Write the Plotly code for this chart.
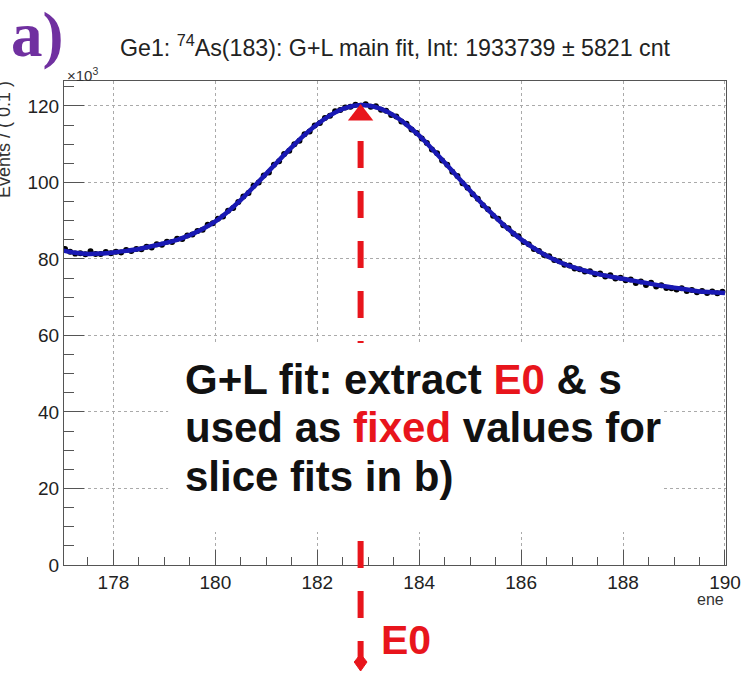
import numpy as np
import plotly.graph_objects as go

# ---------------- data (counts in units of 10^3 per 0.1 bin) ----------------
bin_start = 177.05
bin_width = 0.1
events = [
    82.6, 81.9, 81.4, 81.5, 81.2, 82.0, 81.3, 81.3, 81.8, 81.5,
    81.9, 81.7, 82.3, 82.1, 82.6, 82.5, 83.2, 83.0, 83.8, 83.7,
    84.5, 84.4, 85.3, 85.2, 86.1, 86.4, 87.3, 87.6, 88.9, 89.3,
    90.5, 91.1, 92.6, 93.3, 94.9, 96.3, 97.2, 99.1, 100.0, 101.8,
    102.6, 104.6, 105.5, 107.4, 108.3, 110.0, 110.9, 112.6, 113.3, 114.9,
    115.5, 116.8, 117.4, 118.6, 118.9, 119.6, 119.8, 120.3, 120.0, 120.4,
    119.8, 119.9, 119.0, 118.7, 117.6, 117.2, 115.9, 115.3, 113.8, 112.9,
    111.5, 110.3, 108.6, 107.6, 105.7, 104.6, 102.8, 101.7, 99.8, 98.6,
    96.9, 95.7, 94.0, 93.0, 91.3, 90.5, 88.8, 88.0, 86.6, 85.9,
    84.4, 83.8, 82.6, 82.1, 81.0, 80.7, 79.7, 79.4, 78.5, 78.3,
    77.5, 77.3, 76.7, 76.8, 76.0, 76.2, 75.4, 75.7, 74.9, 75.1,
    74.4, 74.6, 73.7, 74.1, 73.2, 73.8, 72.8, 73.1, 72.4, 72.3,
    72.0, 72.3, 71.6, 71.9, 71.3, 71.6, 71.1, 71.5, 71.0, 71.4,
]
energy = np.round(bin_start + bin_width * np.arange(len(events)), 3)

# G+L fit curve sampled every 0.25
fit_energy = [
    177.00, 177.25, 177.50, 177.75, 178.00, 178.25, 178.50, 178.75, 179.00, 179.25,
    179.50, 179.75, 180.00, 180.25, 180.50, 180.75, 181.00, 181.25, 181.50, 181.75,
    182.00, 182.25, 182.50, 182.75, 183.00, 183.25, 183.50, 183.75, 184.00, 184.25,
    184.50, 184.75, 185.00, 185.25, 185.50, 185.75, 186.00, 186.25, 186.50, 186.75,
    187.00, 187.25, 187.50, 187.75, 188.00, 188.25, 188.50, 188.75, 189.00, 189.25,
    189.50, 189.75, 190.00,
]
fit_values = [
    82.2, 81.6, 81.3, 81.4, 81.7, 82.1, 82.6, 83.3, 84.1, 85.0,
    86.2, 87.8, 89.8, 92.4, 95.4, 98.8, 102.3, 105.8, 109.2, 112.4,
    115.2, 117.5, 119.2, 120.1, 120.1, 119.2, 117.5, 115.1, 112.2, 108.8,
    105.2, 101.5, 97.8, 94.2, 90.9, 87.8, 85.1, 82.8, 80.8, 79.2,
    77.9, 76.9, 76.1, 75.4, 74.8, 74.2, 73.6, 73.0, 72.5, 72.0,
    71.5, 71.3, 71.1,
]

E0 = 182.85
peak_marker_value = [117.6]
x_range = [177.03, 190.02]
y_range = [0, 126.5]
x_ticks = [178, 180, 182, 184, 186, 188, 190]
y_ticks = [0, 20, 40, 60, 80, 100, 120]

title_text = "Ge1: <sup>74</sup>As(183): G+L main fit, Int: 1933739 ± 5821 cnt"
box_lines = [
    "G+L fit: extract <span style='color:#e8151c'>E0</span> & s",
    "used as <span style='color:#e8151c'>fixed</span> values for",
    "slice fits in b)",
]

# ---------------- layout geometry (pixels) ----------------
W, H = 753, 673
L, R, T, B = 64, 738, 81, 565


def px(xp):
    return (xp - L) / (R - L)


def py(yp):
    return (B - yp) / (B - T)


def data_to_paper_x(v):
    return (v - x_range[0]) / (x_range[1] - x_range[0])


RED = "#e8151c"
FONT = "Liberation Sans, Arial, sans-serif"

fig = go.Figure()
fig.add_trace(go.Scatter(
    x=energy, y=events, mode="markers",
    marker=dict(color="black", size=6), showlegend=False, hoverinfo="skip",
))
fig.add_trace(go.Scatter(
    x=fit_energy, y=fit_values, mode="lines", line_shape="spline",
    line=dict(color="rgb(25,25,180)", width=4.5), showlegend=False, hoverinfo="skip",
))
fig.add_trace(go.Scatter(
    x=[E0], y=peak_marker_value, mode="markers",
    marker=dict(symbol="triangle-up", color=RED, size=22),
    showlegend=False, hoverinfo="skip",
))

fig.add_shape(type="line", xref="x", yref="paper", x0=E0, x1=E0,
              y0=py(141), y1=py(658), layer="above",
              line=dict(color=RED, width=6, dash="27px,23px"))
fig.add_shape(type="rect", xref="paper", yref="paper",
              x0=px(170), x1=px(672), y0=py(343), y1=py(532), layer="above",
              line=dict(width=0), fillcolor="white")
# arrow tip (diamond) at the lower end of the E0 marker line
ex = data_to_paper_x(E0)
dxp = 6.5 / (R - L)
fig.add_shape(type="path", xref="paper", yref="paper", layer="above",
              path=(f"M {ex - dxp},{py(662)} L {ex},{py(654)} L {ex + dxp},{py(662)} "
                    f"L {ex},{py(671)} Z"),
              fillcolor=RED, line=dict(color=RED, width=1))

ann = []
ann.append(dict(text="a)", x=px(37), y=py(35), xref="paper", yref="paper",
                showarrow=False, xanchor="center", yanchor="middle",
                font=dict(family="Liberation Serif, Times New Roman, serif",
                          size=63, color="#7030a0", weight="bold")))
ann.append(dict(text=title_text, x=px(402), y=py(46), xref="paper", yref="paper",
                showarrow=False, xanchor="center", yanchor="middle",
                font=dict(family=FONT, size=23.2, color="#222")))
ann.append(dict(text="×10<sup>3</sup>", x=px(65), y=py(74), xref="paper", yref="paper",
                showarrow=False, xanchor="left", yanchor="middle",
                font=dict(family=FONT, size=15, color="#333")))
ann.append(dict(text="Events / ( 0.1 )", x=px(3), y=py(140), xref="paper", yref="paper",
                showarrow=False, xanchor="center", yanchor="middle", textangle=-90,
                font=dict(family=FONT, size=18, color="#333")))
ann.append(dict(text="ene", x=px(738), y=py(599), xref="paper", yref="paper",
                showarrow=False, xanchor="right", yanchor="middle",
                font=dict(family=FONT, size=16, color="#333")))
ann.append(dict(text="E0", x=px(385), y=py(640), xref="paper", yref="paper",
                showarrow=False, xanchor="left", yanchor="middle",
                font=dict(family=FONT, size=41, color=RED, weight="bold")))
for i, line in enumerate(box_lines):
    ann.append(dict(text=line, x=px(185), y=py(379 + 48.5 * i), xref="paper", yref="paper",
                    showarrow=False, xanchor="left", yanchor="middle",
                    font=dict(family=FONT, size=42, color="#111", weight="bold")))

axis_common = dict(
    showline=True, mirror=True, linecolor="#555", linewidth=1,
    ticks="inside", tickcolor="#555", tickwidth=1,
    showgrid=True, gridcolor="#aaa", griddash="dot", gridwidth=1,
    zeroline=False, tickfont=dict(family=FONT, size=19, color="#222"),
)
fig.update_xaxes(range=x_range, tickvals=x_ticks, ticklen=15,
                 minor=dict(dtick=0.5, tick0=177, ticks="inside", ticklen=8, tickcolor="#555", showgrid=False),
                 **axis_common)
fig.update_yaxes(range=y_range, tickvals=y_ticks, ticklen=20,
                 minor=dict(dtick=5, tick0=0, ticks="inside", ticklen=10, tickcolor="#555", showgrid=False),
                 **axis_common)

fig.update_layout(
    width=W, height=H, autosize=False,
    margin=dict(l=L, r=W - R, t=T, b=H - B, pad=0),
    paper_bgcolor="white", plot_bgcolor="white",
    annotations=ann, showlegend=False,
)

fig.write_html("out.html")
